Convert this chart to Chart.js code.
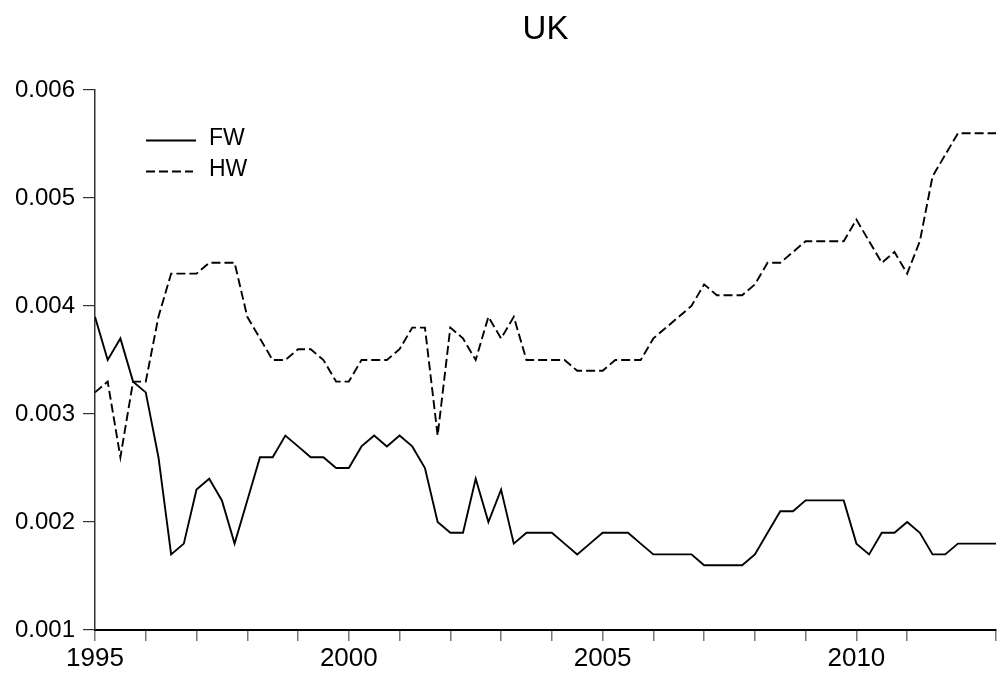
<!DOCTYPE html>
<html>
<head>
<meta charset="utf-8">
<script src="https://cdn.jsdelivr.net/npm/chart.js@4.4.1/dist/chart.umd.min.js"></script>
<style>
  html, body { margin: 0; padding: 0; background: #fff; }
  #wrap { width: 998px; height: 677px; }
  canvas { display: block; }
</style>
</head>
<body>
<div id="wrap"><canvas id="c" width="998" height="677"></canvas></div>
<script>
// Quarterly series, 1995Q1 .. 2012Q4
const chartTitle = 'UK';
const startYear = 1995;
const seriesNames = ['FW', 'HW'];

const fw = [
  0.0039, 0.0035, 0.0037, 0.0033, 0.0032, 0.0026, 0.0017, 0.0018,
  0.0023, 0.0024, 0.0022, 0.0018, 0.0022, 0.0026, 0.0026, 0.0028,
  0.0027, 0.0026, 0.0026, 0.0025, 0.0025, 0.0027, 0.0028, 0.0027,
  0.0028, 0.0027, 0.0025, 0.0020, 0.0019, 0.0019, 0.0024, 0.0020,
  0.0023, 0.0018, 0.0019, 0.0019, 0.0019, 0.0018, 0.0017, 0.0018,
  0.0019, 0.0019, 0.0019, 0.0018, 0.0017, 0.0017, 0.0017, 0.0017,
  0.0016, 0.0016, 0.0016, 0.0016, 0.0017, 0.0019, 0.0021, 0.0021,
  0.0022, 0.0022, 0.0022, 0.0022, 0.0018, 0.0017, 0.0019, 0.0019,
  0.0020, 0.0019, 0.0017, 0.0017, 0.0018, 0.0018, 0.0018, 0.0018
];

const hw = [
  0.0032, 0.0033, 0.0026, 0.0033, 0.0033, 0.0039, 0.0043, 0.0043,
  0.0043, 0.0044, 0.0044, 0.0044, 0.0039, 0.0037, 0.0035, 0.0035,
  0.0036, 0.0036, 0.0035, 0.0033, 0.0033, 0.0035, 0.0035, 0.0035,
  0.0036, 0.0038, 0.0038, 0.0028, 0.0038, 0.0037, 0.0035, 0.0039,
  0.0037, 0.0039, 0.0035, 0.0035, 0.0035, 0.0035, 0.0034, 0.0034,
  0.0034, 0.0035, 0.0035, 0.0035, 0.0037, 0.0038, 0.0039, 0.0040,
  0.0042, 0.0041, 0.0041, 0.0041, 0.0042, 0.0044, 0.0044, 0.0045,
  0.0046, 0.0046, 0.0046, 0.0046, 0.0048, 0.0046, 0.0044, 0.0045,
  0.0043, 0.0046, 0.0052, 0.0054, 0.0056, 0.0056, 0.0056, 0.0056
];

const xTickLabels = [1995, 2000, 2005, 2010];
const yMin = 0.001, yMax = 0.006, yStep = 0.001;

const quarterX = fw.map((_, i) => startYear + i / 4);
const toPoints = arr => arr.map((v, i) => ({ x: quarterX[i], y: v }));

const FONT = '"Liberation Sans", Arial, Helvetica, sans-serif';

// Title and in-plot legend
const decorations = {
  id: 'decorations',
  afterDraw(chart) {
    const ctx = chart.ctx, area = chart.chartArea;
    ctx.save();
    ctx.fillStyle = '#000';
    ctx.font = '33px ' + FONT;
    ctx.textAlign = 'center';
    ctx.textBaseline = 'alphabetic';
    ctx.fillText(chartTitle, (area.left + area.right) / 2, 39);

    chart.data.datasets.forEach((ds, i) => {
      const y = 140.5 + i * 31;
      ctx.beginPath();
      ctx.setLineDash(ds.borderDash || []);
      ctx.lineWidth = ds.borderWidth;
      ctx.strokeStyle = ds.borderColor;
      ctx.moveTo(146, y);
      ctx.lineTo(ds.borderDash ? 193 : 196, y);
      ctx.stroke();
      ctx.setLineDash([]);
      ctx.font = '23px ' + FONT;
      ctx.textAlign = 'left';
      ctx.textBaseline = 'alphabetic';
      ctx.fillText(ds.label, 209, y + 4);
    });
    ctx.restore();
  }
};

new Chart(document.getElementById('c'), {
  type: 'line',
  data: {
    datasets: [
      {
        label: seriesNames[0],
        data: toPoints(fw),
        borderColor: '#000',
        borderWidth: 1.9,
        pointRadius: 0,
        tension: 0,
        fill: false
      },
      {
        label: seriesNames[1],
        data: toPoints(hw),
        borderColor: '#000',
        borderWidth: 1.9,
        borderDash: [9, 4],
        pointRadius: 0,
        tension: 0,
        fill: false
      }
    ]
  },
  options: {
    responsive: false,
    devicePixelRatio: 1,
    animation: false,
    layout: { padding: { top: 90, right: 1, left: 0, bottom: 0 } },
    plugins: {
      legend: { display: false },
      title: { display: false },
      tooltip: { enabled: false }
    },
    scales: {
      x: {
        type: 'linear',
        min: startYear,
        max: quarterX[quarterX.length - 1],
        afterFit(scale) { scale.height = 47; },
        border: { display: true, color: '#000', width: 2 },
        grid: {
          drawOnChartArea: false,
          drawTicks: true,
          tickLength: 11,
          color: '#777',
          lineWidth: 1.5
        },
        ticks: {
          stepSize: 1,
          autoSkip: false,
          maxRotation: 0,
          padding: 2,
          color: '#000',
          font: { family: FONT, size: 26 },
          callback: v => (xTickLabels.includes(Math.round(v)) && Math.abs(v - Math.round(v)) < 1e-6) ? String(Math.round(v)) : ''
        }
      },
      y: {
        min: yMin,
        max: yMax,
        afterFit(scale) { scale.width = 95; },
        border: { display: true, color: '#333', width: 1.5 },
        grid: {
          drawOnChartArea: false,
          drawTicks: true,
          tickLength: 12,
          color: '#333',
          lineWidth: 1.2
        },
        ticks: {
          stepSize: yStep,
          padding: 8,
          color: '#000',
          font: { family: FONT, size: 24 },
          callback: v => v.toFixed(3)
        }
      }
    }
  },
  plugins: [decorations]
});
</script>
</body>
</html>
